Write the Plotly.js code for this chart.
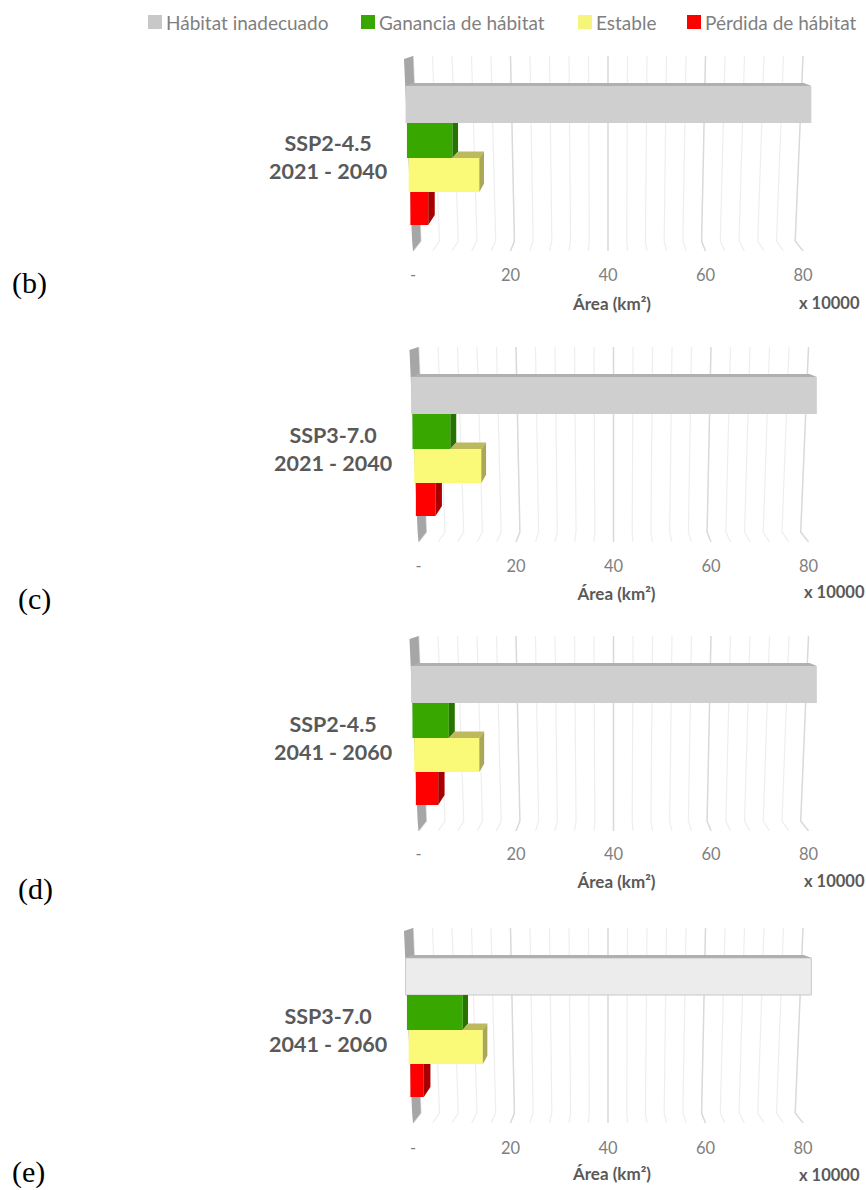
<!DOCTYPE html>
<html>
<head>
<meta charset="utf-8">
<script src="https://cdn.plot.ly/plotly-3.0.1.min.js"></script>
<style>html,body{margin:0;padding:0;background:#fff}#chart{width:866px;height:1190px}</style>
</head>
<body>
<div id="chart"></div>
<script>
// Area per class and scenario, in units of 10000 km2.
const scenarios = ['SSP2-4.5', 'SSP3-7.0', 'SSP2-4.5', 'SSP3-7.0'];
const periods = ['2021 - 2040', '2021 - 2040', '2041 - 2060', '2041 - 2060'];
const panelTags = ['(b)', '(c)', '(d)', '(e)'];
const seriesNames = ['Hábitat inadecuado', 'Ganancia de hábitat', 'Estable', 'Pérdida de hábitat'];
const inadecuado = [79.8, 79.8, 79.8, 79.8];
const ganancia = [9.0, 7.5, 7.2, 11.05];
const estable = [14.1, 13.4, 13.0, 14.8];
const perdida = [3.6, 3.95, 4.5, 2.7];
const tickValues = [0, 20, 40, 60, 80];
const tickLabels = ['-', '20', '40', '60', '80'];

// Panel placement on the page, in px.
const W = 866, H = 1190;
const panelDy = [0, 291, 580, 872];
const panelZero = [413, 418.5, 418.5, 413];
const domainLeft = [358, 367, 367, 358];
const tickLen = [9, 9, 8, 10];
const titleGap = [14, 13, 13, 11];
const tagPos = [[10, 283], [16, 599], [16, 889], [10, 1172]];
const labelPos = [[328, 157], [333, 449], [333, 738], [328, 1030]];
const multPos = [[862, 303], [867, 592], [867, 881], [862, 1175]];
const pxPerUnit = 4.875;

// Row geometry shared by the panels (panel-local y, front plane).
const rowTop = [86, 123, 158, 192];
const rowBottom = [123, 158, 192, 225];
const rowScale = [1.043, 1.036, 1.027, 1.0185];
const rowShift = 0.2;
const depthScale = 0.964, depthY = 0.95, vanishY = 26;
const GRID_TOP = 56, GRID_BEND = 241, GRID_BOTTOM = 251, BEND_SCALE = 0.96;

// Styling.
const inadecuadoFace = ['#cfcfcf', '#cfcfcf', '#cfcfcf', '#ececec'];
const faceColors = [null, '#38a800', '#fbf978', '#ff0000'];
const legendColors = ['#c8c8c8', '#38a800', '#f5f57a', '#ff0000'];
const sideColors = [null, '#267300', '#aaa757', '#a80000'];
const TOP_GREY = '#b0b0b0', TOP_YELLOW = '#bdb95e', WALL = '#a6a6a6';
const TEXT = '#595959', TICK = '#7f7f7f';
const FONT = 'Lato, "Open Sans", sans-serif';

// Perspective projection about the centre of the value axis.
const project = (v, k) => 40 + (v - 40) * k;
const projectBar = (v, k) => project(v, k) + rowShift;
const backY = y => vanishY + (y - vanishY) * depthY;
const px = x => x / W, py = y => 1 - y / H;

const traces = [], shapes = [], annotations = [];
const layout = {
  width: W, height: H, margin: {l: 0, r: 0, t: 0, b: 0},
  paper_bgcolor: '#fff', plot_bgcolor: 'rgba(0,0,0,0)',
  barmode: 'overlay', showlegend: false, hovermode: false,
  shapes, annotations
};

function polygon(xa, ya, pts, color) {
  traces.push({
    type: 'scatter', mode: 'lines', xaxis: xa, yaxis: ya,
    x: pts.map(p => p[0]).concat(pts[0][0]),
    y: pts.map(p => p[1]).concat(pts[0][1]),
    fill: 'toself', fillcolor: color, line: {width: 0}, hoverinfo: 'skip'
  });
}

scenarios.forEach((scenario, p) => {
  const n = p === 0 ? '' : String(p + 1);
  const xa = 'x' + n, ya = 'y' + n;
  const dy = panelDy[p];

  layout['xaxis' + n] = {
    domain: [domainLeft[p] / W, 1], anchor: ya,
    range: [(domainLeft[p] - panelZero[p]) / pxPerUnit, (W - panelZero[p]) / pxPerUnit],
    showgrid: false, zeroline: false, showline: false,
    tickmode: 'array', tickvals: tickValues, ticktext: tickLabels,
    ticks: 'outside', ticklen: tickLen[p], tickcolor: 'rgba(0,0,0,0)',
    tickfont: {family: FONT, size: 16.5, color: TICK},
    title: {text: 'Área (km²)', standoff: titleGap[p], font: {family: FONT, size: 17, color: TEXT, weight: 700}}
  };
  layout['yaxis' + n] = {
    domain: [py(GRID_BOTTOM + dy), py(GRID_TOP + dy)], anchor: xa,
    range: [GRID_BOTTOM, GRID_TOP], visible: false
  };

  // Back wall and perspective gridlines sit beneath the bars.
  for (let v = 0; v <= 80; v += 4) {
    const major = v % 20 === 0;
    shapes.push({
      type: 'path', layer: 'below', xref: xa, yref: ya,
      path: `M${project(v, 1)},${GRID_TOP} L${project(v, BEND_SCALE)},${GRID_BEND} L${project(v, 1)},${GRID_BOTTOM}`,
      line: {color: major ? '#d9d9d9' : '#eeeeee', width: major ? 1.5 : 1.2}
    });
  }
  shapes.push({
    type: 'path', layer: 'below', xref: xa, yref: ya,
    path: `M${project(-1.85, 1)},59 L${project(0, 1)},${GRID_TOP} L${project(0, BEND_SCALE)},${GRID_BEND} ` +
          `L${project(0, 1)},${GRID_BOTTOM} L${project(-1.85, BEND_SCALE)},${GRID_BEND} Z`,
    fillcolor: WALL, line: {width: 0}
  });

  // Front faces of the four bars.
  [inadecuado, ganancia, estable, perdida].forEach((values, r) => {
    const k = rowScale[r];
    traces.push({
      type: 'bar', orientation: 'h', xaxis: xa, yaxis: ya,
      name: seriesNames[r],
      y: [(rowTop[r] + rowBottom[r]) / 2],
      width: [rowBottom[r] - rowTop[r]],
      base: [projectBar(0, k)],
      x: [values[p] * k],
      marker: {
        color: r === 0 ? inadecuadoFace[p] : faceColors[r],
        line: r === 0 && p === 3 ? {color: '#c9c9c9', width: 1} : {width: 0}
      },
      hoverinfo: 'skip'
    });
  });

  // Visible top and side faces, projected from the same values.
  const frontOf = r => projectBar([inadecuado, ganancia, estable, perdida][r][p], rowScale[r]);
  const backOf = r => projectBar([inadecuado, ganancia, estable, perdida][r][p], rowScale[r] * depthScale);

  polygon(xa, ya, [
    [projectBar(0, rowScale[0]), rowTop[0]],
    [projectBar(0, rowScale[0] * depthScale), backY(rowTop[0])],
    [backOf(0), backY(rowTop[0])],
    [frontOf(0), rowTop[0]]
  ], TOP_GREY);

  polygon(xa, ya, [
    [frontOf(1), rowTop[1]], [backOf(1), rowTop[1]],
    [backOf(1), backY(rowBottom[1])], [frontOf(1), rowBottom[1]]
  ], sideColors[1]);

  polygon(xa, ya, [
    [frontOf(1), rowTop[2]], [backOf(1), backY(rowTop[2])],
    [backOf(2), backY(rowTop[2])], [frontOf(2), rowTop[2]]
  ], TOP_YELLOW);

  polygon(xa, ya, [
    [frontOf(2), rowTop[2]], [backOf(2), backY(rowTop[2])],
    [backOf(2), backY(rowBottom[2])], [frontOf(2), rowBottom[2]]
  ], sideColors[2]);

  polygon(xa, ya, [
    [frontOf(3), rowTop[3]], [backOf(3), rowTop[3]],
    [backOf(3), backY(rowBottom[3])], [frontOf(3), rowBottom[3]]
  ], sideColors[3]);

  // Category label, multiplier and panel letter.
  annotations.push({
    xref: 'paper', yref: 'paper', x: px(labelPos[p][0]), y: py(labelPos[p][1]),
    xanchor: 'center', yanchor: 'middle', align: 'center', showarrow: false,
    text: `<b>${scenario}<br>${periods[p]}</b>`,
    font: {family: FONT, size: 21.5, color: TEXT}
  });
  annotations.push({
    xref: 'paper', yref: 'paper', x: px(multPos[p][0]), y: py(multPos[p][1]),
    xanchor: 'right', yanchor: 'middle', showarrow: false,
    text: '<b>x 10000</b>', font: {family: FONT, size: 16.5, color: TEXT}
  });
  annotations.push({
    xref: 'paper', yref: 'paper', x: px(tagPos[p][0]), y: py(tagPos[p][1]),
    xanchor: 'left', yanchor: 'middle', showarrow: false,
    text: panelTags[p], font: {family: '"Liberation Serif", serif', size: 30, color: '#000'}
  });
});

// Legend row across the top of the page.
const legendSwatchX = [148, 361, 578, 687];
seriesNames.forEach((name, i) => {
  shapes.push({
    type: 'rect', xref: 'paper', yref: 'paper',
    x0: px(legendSwatchX[i]), x1: px(legendSwatchX[i] + 14), y0: py(29), y1: py(15),
    fillcolor: legendColors[i], line: {width: 0}
  });
  annotations.push({
    xref: 'paper', yref: 'paper', x: px(legendSwatchX[i] + 16), y: py(22),
    xanchor: 'left', yanchor: 'middle', showarrow: false,
    text: name, font: {family: FONT, size: 19, color: TICK}
  });
});

Plotly.newPlot('chart', traces, layout, {staticPlot: true, displayModeBar: false});
</script>
</body>
</html>
